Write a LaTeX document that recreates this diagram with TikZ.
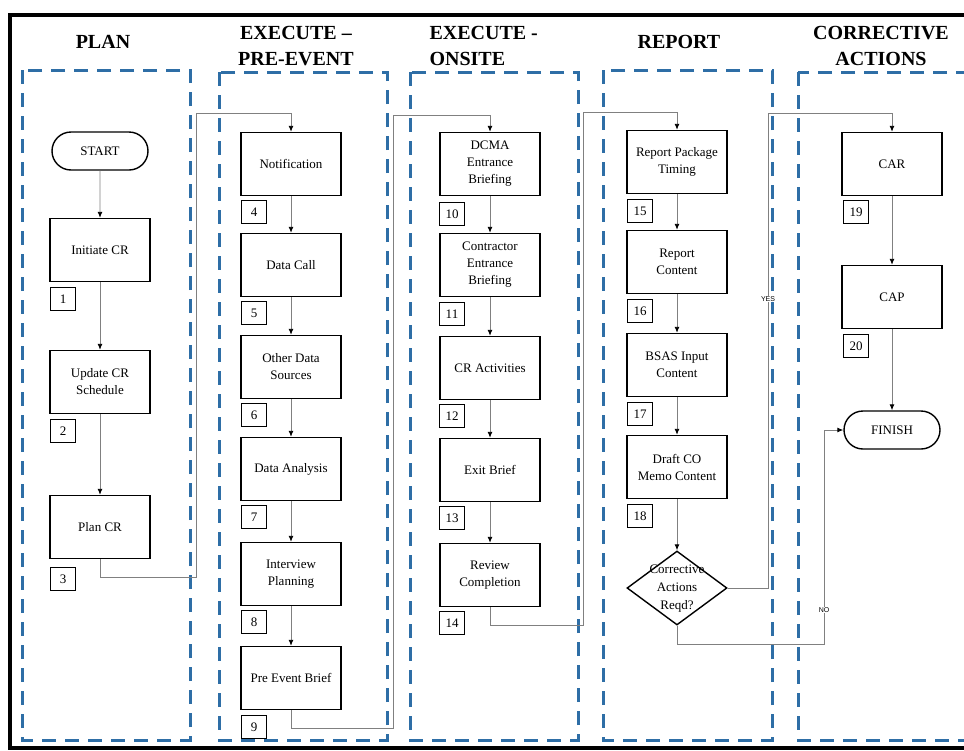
\documentclass[tikz,border=0pt]{standalone}
\usepackage{fontspec}
\setmainfont{Liberation Serif}
\newfontfamily\lblfont{Liberation Sans}
\usetikzlibrary{arrows.meta,shapes.geometric,shapes.misc}
\definecolor{lanec}{RGB}{46,110,166}
\definecolor{connc}{RGB}{128,128,128}
\tikzset{
  lane/.style={draw=lanec,line width=3pt,dash pattern=on 14pt off 9pt},
  stepbox/.style={draw,line width=1.4pt,minimum width=100pt,minimum height=63pt,align=center,
    font=\fontsize{13}{17}\selectfont,inner sep=2pt},
  term/.style={draw,line width=1.4pt,rounded rectangle,minimum width=100pt,minimum height=38pt,
    font=\fontsize{13}{17}\selectfont,inner sep=2pt},
  num/.style={draw,line width=1pt,minimum width=25pt,minimum height=23pt,inner sep=0pt,
    anchor=north west,font=\fontsize{13}{15}\selectfont},
  conn/.style={draw=connc,line width=0.9pt,-{Latex[length=6pt,width=5pt,color=black]}},
  head/.style={font=\fontsize{20}{26}\selectfont\bfseries,align=center},
  lbl/.style={font=\lblfont\fontsize{7}{8}\selectfont,fill=white,inner sep=0.5pt},
}
\begin{document}
\begin{tikzpicture}[x=1pt,y=-1pt]
\useasboundingbox (0,0) rectangle (964,750);
\clip (0,0) rectangle (964,750);
\fill[white] (0,0) rectangle (964,750);
% outer frame
\draw[line width=4pt] (10,15) rectangle (975,748);
% lanes
\draw[lane] (22,70) rectangle (190,740);
\draw[lane] (219,72) rectangle (387,740);
\draw[lane] (410,72) rectangle (578,740);
\draw[lane] (603,70) rectangle (772,740);
\draw[lane] (798,72) rectangle (975,740);
% headers
\node[head] (hplan) at (103,42) {PLAN};
\node[head] (hpre) at (296,46) {EXECUTE --\\PRE-EVENT};
\node[head,align=left,anchor=west] (hon) at (426,46) {EXECUTE -\\ONSITE};
\node[head] (hrep) at (679,42) {REPORT};
\node[head] (hcor) at (881,46) {CORRECTIVE\\ACTIONS};
% PLAN
\node[term] (start) at (100,151) {START};
\node[stepbox] (initcr) at (100,250) {Initiate CR};
\node[num] (n1) at (50,287) {1};
\node[stepbox] (update) at (100,382) {Update CR\\Schedule};
\node[num] (n2) at (50,419) {2};
\node[stepbox] (plancr) at (100,527) {Plan CR};
\node[num] (n3) at (50,567) {3};
% PRE-EVENT
\node[stepbox] (notif) at (291,164) {Notification};
\node[num] (n4) at (241,200) {4};
\node[stepbox] (datacall) at (291,265) {Data Call};
\node[num] (n5) at (241,301) {5};
\node[stepbox] (other) at (291,367) {Other Data\\Sources};
\node[num] (n6) at (241,403) {6};
\node[stepbox] (analysis) at (291,469) {Data Analysis};
\node[num] (n7) at (241,505) {7};
\node[stepbox] (interview) at (291,574) {Interview\\Planning};
\node[num] (n8) at (241,610) {8};
\node[stepbox] (preevent) at (291,678) {Pre Event Brief};
\node[num] (n9) at (241,715) {9};
% ONSITE
\node[stepbox] (dcma) at (490,164) {DCMA\\Entrance\\Briefing};
\node[num] (n10) at (439,202) {10};
\node[stepbox] (contractor) at (490,265) {Contractor\\Entrance\\Briefing};
\node[num] (n11) at (439,302) {11};
\node[stepbox] (cract) at (490,368) {CR Activities};
\node[num] (n12) at (439,404) {12};
\node[stepbox] (exit) at (490,470) {Exit Brief};
\node[num] (n13) at (439,506) {13};
\node[stepbox] (review) at (490,575) {Review\\Completion};
\node[num] (n14) at (439,611) {14};
% REPORT
\node[stepbox] (rpt) at (677,162) {Report Package\\Timing};
\node[num] (n15) at (627,199) {15};
\node[stepbox] (rcont) at (677,262) {Report\\Content};
\node[num] (n16) at (627,299) {16};
\node[stepbox] (bsas) at (677,365) {BSAS Input\\Content};
\node[num] (n17) at (627,402) {17};
\node[stepbox] (draft) at (677,467) {Draft CO\\Memo Content};
\node[num] (n18) at (627,504) {18};
\node[diamond,draw,line width=1.4pt,minimum width=100pt,minimum height=74pt,inner sep=0pt] (dec) at (677,588) {};
\node[align=center,font=\fontsize{13}{18}\selectfont] (dectext) at (677,589) {Corrective\\Actions\\Reqd?};
% CORRECTIVE
\node[stepbox] (car) at (892,164) {CAR};
\node[num] (n19) at (843,200) {19};
\node[stepbox] (cap) at (892,297) {CAP};
\node[num] (n20) at (843,334) {20};
\node[term] (finish) at (892,430) {FINISH};
% connectors within lanes
\draw[conn] (start) -- (initcr);
\draw[conn] (initcr) -- (update);
\draw[conn] (update) -- (plancr);
\draw[conn] (notif) -- (datacall);
\draw[conn] (datacall) -- (other);
\draw[conn] (other) -- (analysis);
\draw[conn] (analysis) -- (interview);
\draw[conn] (interview) -- (preevent);
\draw[conn] (dcma) -- (contractor);
\draw[conn] (contractor) -- (cract);
\draw[conn] (cract) -- (exit);
\draw[conn] (exit) -- (review);
\draw[conn] (rpt) -- (rcont);
\draw[conn] (rcont) -- (bsas);
\draw[conn] (bsas) -- (draft);
\draw[conn] (draft) -- (dec);
\draw[conn] (car) -- (cap);
\draw[conn] (cap) -- (finish);
% cross-lane connectors
\draw[conn] (plancr.south) |- (196,577) |- (291,113) -- (notif.north);
\draw[conn] (preevent.south) |- (393,728) |- (490,115) -- (dcma.north);
\draw[conn] (review.south) |- (583,625) |- (677,112) -- (rpt.north);
\draw[conn] (dec.east) -| (768,113) -| (car.north);
\node[lbl] (yes) at (768,299) {YES};
\draw[conn] (dec.south) |- (824,644) |- (finish.west);
\node[lbl] (no) at (824,610) {NO};
\end{tikzpicture}
\end{document}
